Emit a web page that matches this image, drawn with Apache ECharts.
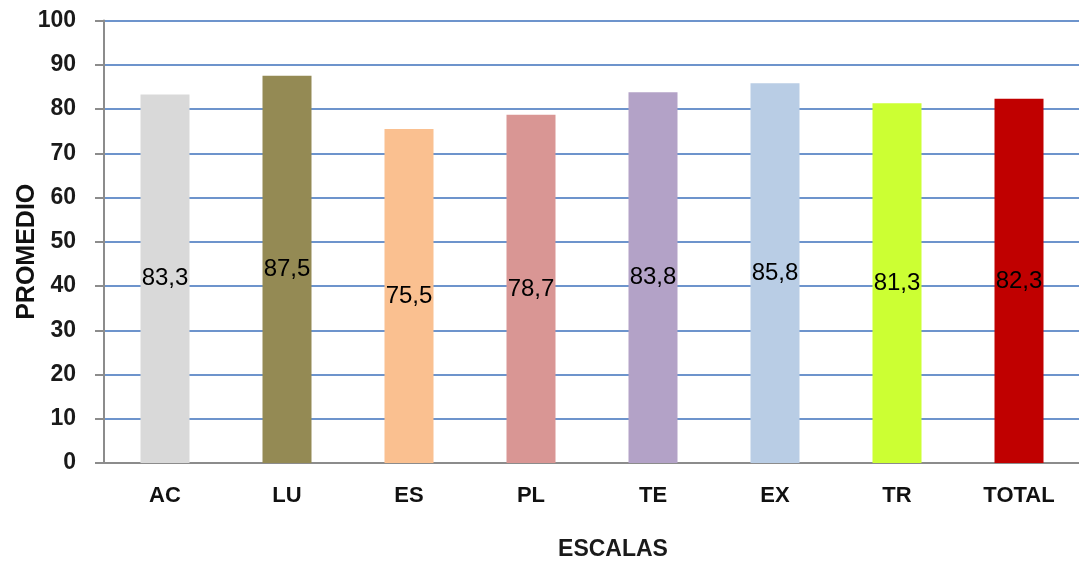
<!DOCTYPE html>
<html>
<head>
<meta charset="utf-8">
<script src="https://cdn.jsdelivr.net/npm/echarts@6/dist/echarts.min.js"></script>
<style>
html,body{margin:0;padding:0;background:#fff;}
#c{width:1079px;height:562px;}
</style>
</head>
<body>
<div id="c"></div>
<script>
const categories = ['AC', 'LU', 'ES', 'PL', 'TE', 'EX', 'TR', 'TOTAL'];
const values = [83.3, 87.5, 75.5, 78.7, 83.8, 85.8, 81.3, 82.3];
const barColors = ['#D9D9D9', '#948A54', '#FAC090', '#D99694', '#B3A2C7', '#B9CDE5', '#CCFF33', '#C00000'];
const yTicks = [0, 10, 20, 30, 40, 50, 60, 70, 80, 90, 100];

const FONT = '"Liberation Sans", Arial, sans-serif';
const chart = echarts.init(document.getElementById('c'), null, {renderer: 'canvas'});
chart.setOption({
  animation: false,
  backgroundColor: '#ffffff',
  grid: {left: 104, right: -1, top: 20.5, bottom: 99, containLabel: false, outerBoundsMode: 'none'},
  xAxis: {
    type: 'category',
    data: categories,
    name: 'ESCALAS',
    nameLocation: 'middle',
    nameGap: 75,
    nameMoveOverlap: false,
    nameTextStyle: {fontFamily: FONT, fontSize: 23, fontWeight: 'bold', color: '#1a1a1a', padding: [0, 0, 0, 42]},
    axisLine: {show: true, lineStyle: {color: '#8c8c8c', width: 2}},
    axisTick: {show: false},
    axisLabel: {fontFamily: FONT, fontSize: 22, fontWeight: 'bold', color: '#111', margin: 22},
    splitLine: {show: false}
  },
  yAxis: {
    type: 'value',
    min: yTicks[0],
    max: yTicks[yTicks.length - 1],
    interval: 10,
    name: 'PROMEDIO',
    nameLocation: 'middle',
    nameGap: 64,
    nameMoveOverlap: false,
    nameRotate: 90,
    nameTextStyle: {fontFamily: FONT, fontSize: 25, fontWeight: 'bold', color: '#111', padding: [0, 20, 0, 0]},
    axisLine: {show: true, lineStyle: {color: '#8c8c8c', width: 2}},
    axisTick: {show: true, length: 9, lineStyle: {color: '#8c8c8c', width: 2}},
    axisLabel: {fontFamily: FONT, fontSize: 23, fontWeight: 'bold', color: '#1a1a1a', margin: 28},
    splitLine: {show: true, lineStyle: {color: '#6d94cc', width: 2}}
  },
  series: [{
    type: 'bar',
    barWidth: 49,
    data: values.map((v, i) => ({value: v, itemStyle: {color: barColors[i]}})),
    label: {
      show: true,
      position: 'inside',
      fontFamily: FONT,
      fontSize: 24,
      color: '#000',
      formatter: p => String(p.value.toFixed(1)).replace('.', ',')
    }
  }]
});
</script>
</body>
</html>
